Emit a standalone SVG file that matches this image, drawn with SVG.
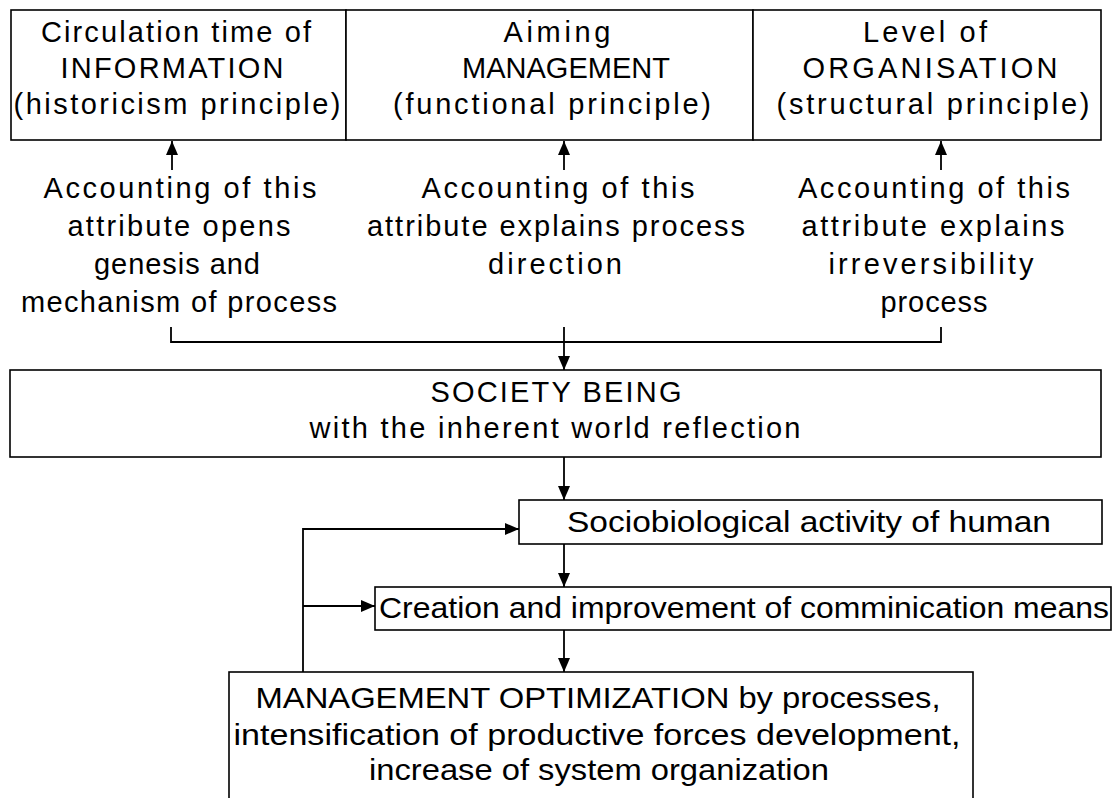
<svg xmlns="http://www.w3.org/2000/svg" width="1114" height="798" viewBox="0 0 1114 798">
<style>
.box{fill:#fff;stroke:#000;stroke-width:1.6}
.t{font-family:"Liberation Sans",Arial,sans-serif;font-size:29px;fill:#000;text-anchor:middle}
.c{fill:none;stroke:#000;stroke-width:1.8}
</style>
<defs>
<marker id="ah" viewBox="0 0 14 12" refX="14" refY="6" markerWidth="14" markerHeight="12" markerUnits="userSpaceOnUse" orient="auto">
<path d="M0,0 L14,6 L0,12 Z" fill="#000"/>
</marker>
</defs>
<rect width="1114" height="798" fill="#fff"/>
<g id="connectors">
<path class="c" d="M172,170 V141" marker-end="url(#ah)"/>
<path class="c" d="M564,170 V141" marker-end="url(#ah)"/>
<path class="c" d="M941,170 V141" marker-end="url(#ah)"/>
<path class="c" d="M171,327 V342 H941 V327"/>
<path class="c" d="M564,327 V370" marker-end="url(#ah)"/>
<path class="c" d="M564,457 V500" marker-end="url(#ah)"/>
<path class="c" d="M564,544 V587" marker-end="url(#ah)"/>
<path class="c" d="M564,630 V672" marker-end="url(#ah)"/>
<path class="c" d="M303,672 V529 H519" marker-end="url(#ah)"/>
<path class="c" d="M303,606 H375" marker-end="url(#ah)"/>
</g>
<g id="n-information">
<rect class="box" x="11" y="10" width="335" height="130"/>
<text class="t" x="176" y="42" textLength="270" lengthAdjust="spacing">Circulation time of</text>
<text class="t" x="172" y="78" textLength="223" lengthAdjust="spacing">INFORMATION</text>
<text class="t" x="177" y="114" textLength="327" lengthAdjust="spacing">(historicism principle)</text>
</g>
<g id="n-management">
<rect class="box" x="346" y="10" width="407" height="130"/>
<text class="t" x="557" y="42" textLength="107" lengthAdjust="spacing">Aiming</text>
<text class="t" x="566" y="78" textLength="208" lengthAdjust="spacing">MANAGEMENT</text>
<text class="t" x="552" y="114" textLength="318" lengthAdjust="spacing">(functional principle)</text>
</g>
<g id="n-organisation">
<rect class="box" x="753" y="10" width="348" height="130"/>
<text class="t" x="925" y="42" textLength="124" lengthAdjust="spacing">Level of</text>
<text class="t" x="930" y="78" textLength="255" lengthAdjust="spacing">ORGANISATION</text>
<text class="t" x="933" y="114" textLength="313" lengthAdjust="spacing">(structural principle)</text>
</g>
<g id="n-acc1">
<text class="t" x="180" y="198" textLength="273" lengthAdjust="spacing">Accounting of this</text>
<text class="t" x="179" y="236" textLength="223" lengthAdjust="spacing">attribute opens</text>
<text class="t" x="177" y="274" textLength="166" lengthAdjust="spacing">genesis and</text>
<text class="t" x="179" y="312" textLength="316" lengthAdjust="spacing">mechanism of process</text>
</g>
<g id="n-acc2">
<text class="t" x="558" y="198" textLength="273" lengthAdjust="spacing">Accounting of this</text>
<text class="t" x="556" y="236" textLength="378" lengthAdjust="spacing">attribute explains process</text>
<text class="t" x="555" y="274" textLength="134" lengthAdjust="spacing">direction</text>
</g>
<g id="n-acc3">
<text class="t" x="934" y="198" textLength="272" lengthAdjust="spacing">Accounting of this</text>
<text class="t" x="933" y="236" textLength="263" lengthAdjust="spacing">attribute explains</text>
<text class="t" x="931" y="274" textLength="205" lengthAdjust="spacing">irreversibility</text>
<text class="t" x="934" y="312" textLength="107" lengthAdjust="spacing">process</text>
</g>
<g id="n-society">
<rect class="box" x="10" y="370" width="1091" height="87"/>
<text class="t" x="556" y="402" textLength="251" lengthAdjust="spacing">SOCIETY BEING</text>
<text class="t" x="555" y="438" textLength="491" lengthAdjust="spacing">with the inherent world reflection</text>
</g>
<g id="n-socio">
<rect class="box" x="519" y="500" width="583" height="44"/>
<text class="t" x="809" y="532" textLength="484" lengthAdjust="spacingAndGlyphs">Sociobiological activity of human</text>
</g>
<g id="n-creation">
<rect class="box" x="375" y="587" width="736" height="43"/>
<text class="t" x="744" y="618" textLength="730" lengthAdjust="spacingAndGlyphs">Creation and improvement of comminication means</text>
</g>
<g id="n-optimization">
<rect class="box" x="229" y="672" width="744" height="140"/>
<text class="t" x="598" y="708" textLength="685" lengthAdjust="spacingAndGlyphs">MANAGEMENT OPTIMIZATION by processes,</text>
<text class="t" x="597" y="745" textLength="727" lengthAdjust="spacingAndGlyphs">intensification of productive forces development,</text>
<text class="t" x="599" y="780" textLength="460" lengthAdjust="spacingAndGlyphs">increase of system organization</text>
</g>
</svg>
